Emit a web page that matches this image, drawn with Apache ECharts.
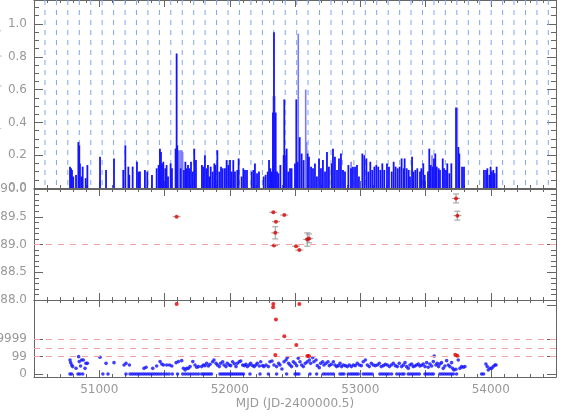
<!DOCTYPE html>
<html>
<head>
<meta charset="utf-8">
<script src="https://cdn.jsdelivr.net/npm/echarts@6/dist/echarts.min.js"></script>
<style>
html, body { margin: 0; padding: 0; background: #fff; }
#main { width: 568px; height: 419px; }
</style>
</head>
<body>
<div id="main"></div>
<script>
// top panel: flux light curve (MJD, value)
var fluxMjd = [50776,50784,50791,50801,50822,50840,50847,50852,50865,50873,50896,50909,51006,51052,51113,51184,51200,51223,51230,51256,51289,51302,51312,51350,51368,51404,51440,51455,51465,51473,51481,51491,51506,51516,51527,51547,51557,51585,51593,51598,51624,51649,51660,51670,51680,51690,51703,51716,51728,51741,51787,51797,51810,51823,51833,51843,51854,51869,51882,51892,51905,51920,51933,51946,51963,51976,51989,52002,52015,52027,52040,52058,52068,52091,52104,52117,52132,52168,52181,52193,52209,52224,52260,52275,52291,52301,52311,52321,52331,52339,52352,52362,52372,52388,52413,52418,52423,52436,52449,52462,52474,52500,52510,52520,52536,52551,52566,52597,52607,52623,52638,52653,52668,52684,52699,52714,52730,52745,52760,52781,52791,52806,52822,52837,52852,52868,52883,52909,52929,52944,52960,52975,52990,53016,53031,53047,53062,53077,53092,53108,53123,53138,53154,53169,53184,53205,53220,53241,53256,53271,53287,53302,53317,53333,53340,53356,53371,53381,53397,53407,53422,53437,53458,53468,53483,53494,53519,53529,53540,53555,53565,53575,53586,53601,53611,53632,53642,53657,53667,53683,53698,53734,53752,53759,53780,53795,53948,53964,53974,53989,53999,54009,54020,54030,54045];
var fluxVal = [0.13,0.12,0.11,0.07,0.08,0.28,0.26,0.15,0.07,0.13,0.06,0.14,0.19,0.11,0.18,0.11,0.26,0.13,0.08,0.13,0.16,0.10,0.10,0.11,0.10,0.08,0.12,0.14,0.24,0.22,0.15,0.16,0.12,0.14,0.07,0.15,0.12,0.24,0.82,0.26,0.12,0.11,0.16,0.12,0.14,0.12,0.16,0.10,0.24,0.17,0.14,0.13,0.20,0.12,0.14,0.07,0.13,0.10,0.15,0.14,0.23,0.10,0.13,0.12,0.12,0.17,0.14,0.17,0.10,0.17,0.10,0.11,0.18,0.07,0.12,0.11,0.11,0.10,0.11,0.15,0.09,0.10,0.07,0.08,0.10,0.17,0.12,0.10,0.46,0.95,0.46,0.10,0.09,0.14,0.20,0.54,0.20,0.24,0.10,0.12,0.12,0.15,0.54,0.16,0.31,0.21,0.17,0.21,0.19,0.13,0.12,0.15,0.07,0.18,0.12,0.17,0.10,0.22,0.13,0.15,0.24,0.19,0.11,0.18,0.21,0.11,0.10,0.14,0.12,0.13,0.13,0.14,0.07,0.21,0.20,0.18,0.10,0.16,0.11,0.13,0.14,0.13,0.11,0.15,0.11,0.15,0.13,0.10,0.16,0.13,0.12,0.13,0.18,0.12,0.18,0.12,0.11,0.07,0.19,0.10,0.11,0.12,0.10,0.12,0.15,0.08,0.10,0.24,0.14,0.13,0.18,0.21,0.13,0.12,0.11,0.18,0.12,0.11,0.15,0.09,0.15,0.49,0.25,0.21,0.13,0.13,0.11,0.11,0.12,0.08,0.13,0.10,0.11,0.09,0.13];
// paler bars drawn behind
var paleMjd = [51608,51619,51629,51639,52334,52345,52525,52582,52589,52930,53550,53744];
var paleVal = [0.23,0.23,0.23,0.22,0.56,0.56,0.94,0.60,0.28,0.16,0.20,0.49];
// dashed guide lines
var guideMjd = [50584,50672,50759,50847,50935,51022,51110,51198,51285,51373,51461,51548,51636,51724,51811,51899,51987,52074,52162,52250,52337,52425,52513,52600,52688,52776,52863,52951,53039,53126,53214,53302,53389,53477,53565,53652,53740,53828,53915,54003,54091,54178,54266,54354,54441];

// middle panel
var posMjd = [51593,52334,52354,52349,52339,52418,52508,52533,52594,52607,53734,53744];
var posVal = [89.50,89.58,89.41,89.21,88.98,89.53,88.97,88.90,89.09,89.11,89.83,89.52];
var posErr = [0.01,0.01,0.02,0.11,0.01,0.01,0.01,0.01,0.12,0.08,0.08,0.08];
var posRef = 89.0;

// bottom panel (levels on the coded scale)
var lvlTicks = [0, 2, 4, 8];
var lvlLabels = ['0', '99', '9999', '100'];
var lvlRefs = [2, 3, 4];
var redMjd = [51593,52334,52332,52354,52418,52510,52533,52349,52594,52607,53728,53744];
var redLvl = [8.1,8.1,7.7,6.3,4.36,3.35,8.1,2.2,2.08,2.08,2.23,2.12];
var blueMjd = [50776,50781,50789,50796,50822,50842,50847,50857,50865,50878,50891,50898,50909,51006,51052,51113,51190,51205,51231,51343,51359,51410,51440,51466,51479,51492,51517,51538,51556,51589,51607,51632,51645,51658,51670,51683,51696,51717,51734,51747,51760,
  51785,51798,51810,51823,51836,51849,51869,51879,51895,51905,51920,51930,51946,51956,51971,51981,51997,52007,52022,52035,52048,52058,52073,52084,52099,52112,52124,52135,52150,52160,52176,52188,52201,52211,52227,52237,52252,52262,52278,52296,52308,52324,52339,52359,52375,52385,52400,52416,52431,52441,52451,52462,52474,52487,52500,52513,52525,52538,52551,52564,52579,52594,52610,52620,52635,52645,52661,52671,52686,52697,52712,52722,52737,52753,52763,52778,52794,52806,52819,52832,52845,52857,52870,52886,52901,52916,52932,52947,52962,52977,52993,53008,53023,53039,53054,53069,53085,53100,53115,53131,53146,53161,53177,53192,53207,53223,53238,53253,53269,53284,53299,
  53317,53330,53343,53355,53368,53381,53394,53406,53419,53432,53445,53457,53470,53483,53496,53509,53521,53534,53547,53560,53567,53580,53590,53600,53611,53623,53636,53649,53662,53675,53687,53700,53708,53718,53733,53751,53764,53777,53790,53802,53963,53973,53981,53994,54007,54019,54032,54040];
var blueLvl = [1.62,1.31,1.04,0.85,0.65,2.0,1.43,0.92,1.62,1.62,0.65,1.23,1.23,1.93,1.23,1.31,1.04,1.23,1.04,0.65,0.77,0.65,0.92,1.43,1.16,1.04,1.04,1.04,0.92,1.31,1.43,1.54,0.65,0.46,0.65,0.65,0.85,1.43,1.04,0.77,0.85,
  0.85,1.04,0.96,1.23,0.92,1.11,1.42,1.62,1.23,1.04,0.85,1.23,1.42,1.04,0.85,1.23,1.04,0.96,1.42,1.19,0.85,1.23,1.42,1.50,1.04,0.96,1.11,0.85,1.04,1.23,0.96,0.85,1.04,1.23,0.92,1.42,0.96,0.85,1.04,0.85,1.42,1.50,1.04,0.85,1.23,1.04,0.58,1.42,1.62,1.89,1.23,1.04,0.85,1.42,1.23,0.96,1.81,1.42,1.04,0.85,1.23,1.42,1.62,1.23,1.89,1.42,1.62,0.96,0.73,1.23,1.42,1.04,1.23,1.42,0.96,1.11,1.42,1.04,0.85,0.96,1.23,0.85,1.04,0.96,0.85,1.04,0.85,1.04,0.96,1.23,1.04,0.96,1.42,1.62,1.04,0.85,1.23,1.04,0.96,1.04,1.23,0.85,0.96,1.11,1.04,0.85,1.04,1.23,0.96,0.85,1.23,
  0.85,1.04,1.31,0.85,0.65,1.04,1.16,0.85,0.92,1.04,1.16,0.92,1.0,1.16,0.85,1.31,0.77,1.16,0.92,1.43,2.08,1.04,1.23,0.85,1.16,1.31,0.65,0.92,1.54,1.04,0.85,1.31,0.65,0.46,0.54,1.62,0.65,0.85,0.77,0.85,1.16,0.85,0.46,0.65,0.65,0.85,1.04,1.04];
var zeroMjd = [50776,50789,50837,50852,50873,51028,51067,51205,51236,51253,51270,51287,51304,51321,51338,51355,51372,51389,51406,51423,51440,51457,51475,51495,51515,51535,51560,51600,51640,51660,51680,51700,51720,51740,51760,51785,51800,51815,51830,51845,51860,51925,51940,51955,51970,51985,52000,52015,52030,52045,52060,52075,52090,52105,52155,52232,52296,52359,52436,52500,52515,52530,52615,52666,52717,52735,52755,52775,52794,52845,52860,52875,52908,52925,52940,52955,52970,52985,53023,53040,53057,53074,53091,53151,53168,53185,53202,53219,53240,53280,53300,53320,53335,53368,53385,53402,53419,53436,53453,53496,53512,53528,53545,53560,53611,53628,53645,53662,53679,53696,53713,53738,53930,53945];

var xTitle = 'MJD (JD-2400000.5)';
var yTitle = 'Flux (counts/cm2/sec)';

var axisCol = '#666';
var textCol = '#999';
var font = 'DejaVu Sans';

function pairs(xs, ys) {
  return xs.map(function (x, i) { return [x, ys[i]]; });
}

function stickItem(color, width) {
  return function (params, api) {
    var p0 = api.coord([api.value(0), 0]);
    var p1 = api.coord([api.value(0), api.value(1)]);
    return {
      type: 'line',
      shape: { x1: p0[0], y1: p0[1], x2: p1[0], y2: p1[1] },
      style: { stroke: color, lineWidth: width }
    };
  };
}

function xAxisFor(grid, pos, labels) {
  return {
    type: 'value', gridIndex: grid, position: pos,
    min: 50500, max: 54500, interval: 500,
    axisLine: { show: true, onZero: false, lineStyle: { color: axisCol } },
    axisTick: { show: true, inside: true, length: 7, lineStyle: { color: axisCol } },
    minorTick: { show: true, splitNumber: 5, length: 3, lineStyle: { color: axisCol } },
    axisLabel: { show: labels, color: textCol, fontFamily: font, fontSize: 12, margin: 7,
      formatter: function (v) { return v % 1000 === 0 ? String(v) : ''; } },
    splitLine: { show: false },
    name: labels ? xTitle : '',
    nameLocation: 'middle', nameGap: 21,
    nameTextStyle: { color: textCol, fontFamily: font, fontSize: 12 }
  };
}

function yAxisFor(grid, pos, cfg) {
  var labels = pos === 'left';
  var ax = {
    type: 'value', gridIndex: grid, position: pos,
    min: cfg.min, max: cfg.max,
    axisLine: { show: true, onZero: false, lineStyle: { color: axisCol } },
    axisTick: { show: true, inside: true, length: 9, lineStyle: { color: axisCol } },
    minorTick: { show: cfg.minor > 0, splitNumber: cfg.minor || 1, length: 5, lineStyle: { color: axisCol } },
    axisLabel: { show: labels, color: textCol, fontFamily: font, fontSize: 12, margin: 7,
      showMaxLabel: cfg.showMax, formatter: cfg.fmt },
    splitLine: { show: false },
    name: labels && cfg.name ? cfg.name : '',
    nameLocation: 'middle', nameGap: 31, nameMoveOverlap: false,
    nameTextStyle: { color: '#bbb', fontFamily: font, fontSize: 12 }
  };
  if (cfg.interval) ax.interval = cfg.interval;
  if (cfg.custom) {
    ax.axisLabel.customValues = cfg.custom;
    ax.axisTick.customValues = cfg.custom;
  }
  return ax;
}

var topCfg = { min: 0, max: 1.146, interval: 0.2, minor: 4, showMax: false, name: yTitle,
  fmt: function (v) { return v.toFixed(1); } };
var midCfg = { min: 88, max: 90, interval: 0.5, minor: 5, showMax: true,
  fmt: function (v) { return v.toFixed(1); } };
var botCfg = { min: -0.35, max: 8.55, minor: 0, showMax: false, custom: lvlTicks,
  fmt: function (v) { var i = lvlTicks.indexOf(v); return i >= 0 ? lvlLabels[i] : ''; } };

var chart = echarts.init(document.getElementById('main'), null, { renderer: 'canvas' });

var option = {
  animation: false,
  backgroundColor: '#fff',
  grid: [
    { left: 34, width: 522, top: 0, height: 188, outerBoundsMode: 'none', containLabel: false },
    { left: 34, width: 522, top: 189, height: 111, outerBoundsMode: 'none', containLabel: false },
    { left: 34, width: 522, top: 300, height: 77, outerBoundsMode: 'none', containLabel: false }
  ],
  xAxis: [
    xAxisFor(0, 'bottom', false), xAxisFor(0, 'top', false),
    xAxisFor(1, 'bottom', false), xAxisFor(1, 'top', false),
    xAxisFor(2, 'bottom', true), xAxisFor(2, 'top', false)
  ],
  yAxis: [
    yAxisFor(0, 'left', topCfg), yAxisFor(0, 'right', topCfg),
    yAxisFor(1, 'left', midCfg), yAxisFor(1, 'right', midCfg),
    yAxisFor(2, 'left', botCfg), yAxisFor(2, 'right', botCfg)
  ],
  series: [
    {
      // dashed guide lines
      type: 'custom', xAxisIndex: 0, yAxisIndex: 0, silent: true, z: 1,
      data: guideMjd.map(function (m) { return [m]; }),
      renderItem: function (params, api) {
        var p0 = api.coord([api.value(0), 0]);
        var p1 = api.coord([api.value(0), topCfg.max]);
        return {
          type: 'line',
          shape: { x1: p0[0], y1: p1[1], x2: p0[0], y2: p0[1] },
          style: { stroke: '#7fa6f2', lineWidth: 1, lineDash: [5, 5] }
        };
      }
    },
    {
      type: 'custom', xAxisIndex: 0, yAxisIndex: 0, silent: true, z: 2,
      data: pairs(paleMjd, paleVal),
      renderItem: stickItem('#7b7bff', 1.6)
    },
    {
      type: 'custom', xAxisIndex: 0, yAxisIndex: 0, silent: true, z: 3,
      data: pairs(fluxMjd, fluxVal),
      renderItem: stickItem('#1414ff', 1.8)
    },
    {
      // error bars
      type: 'custom', xAxisIndex: 2, yAxisIndex: 2, silent: true, z: 3,
      data: posMjd.map(function (m, i) { return [m, posVal[i], posErr[i]]; }),
      renderItem: function (params, api) {
        var x = api.value(0), v = api.value(1), e = api.value(2);
        var c = api.coord([x, v]);
        var hi = api.coord([x, v + e]);
        var lo = api.coord([x, v - e]);
        var st = { stroke: '#999', lineWidth: 1 };
        var kids = [
          { type: 'line', shape: { x1: c[0] - 4, y1: c[1], x2: c[0] + 4, y2: c[1] }, style: st }
        ];
        if (lo[1] - hi[1] > 3) {
          kids.push({ type: 'line', shape: { x1: c[0], y1: hi[1], x2: c[0], y2: lo[1] }, style: st });
          kids.push({ type: 'line', shape: { x1: c[0] - 3, y1: hi[1], x2: c[0] + 3, y2: hi[1] }, style: st });
          kids.push({ type: 'line', shape: { x1: c[0] - 3, y1: lo[1], x2: c[0] + 3, y2: lo[1] }, style: st });
        }
        return { type: 'group', children: kids };
      }
    },
    {
      type: 'scatter', xAxisIndex: 2, yAxisIndex: 2, z: 4,
      data: pairs(posMjd, posVal),
      symbolSize: 4, itemStyle: { color: '#e00000' },
      markLine: {
        silent: true, symbol: 'none', label: { show: false },
        lineStyle: { color: '#f2a2a2', type: [6, 6], width: 1 },
        data: [{ yAxis: posRef }]
      }
    },
    {
      type: 'scatter', xAxisIndex: 4, yAxisIndex: 4, z: 4,
      data: pairs(blueMjd, blueLvl),
      symbolSize: 3.6, itemStyle: { color: '#1010ff' }
    },
    {
      type: 'scatter', xAxisIndex: 4, yAxisIndex: 4, z: 4,
      data: zeroMjd.map(function (m) { return [m, 0]; }),
      symbolSize: 3.6, itemStyle: { color: '#1010ff' }
    },
    {
      type: 'scatter', xAxisIndex: 4, yAxisIndex: 4, z: 5,
      data: pairs(redMjd, redLvl),
      symbolSize: 4, itemStyle: { color: '#e00000' },
      markLine: {
        silent: true, symbol: 'none', label: { show: false },
        lineStyle: { color: '#f2a2a2', type: [6, 6], width: 1 },
        data: lvlRefs.map(function (l) { return { yAxis: l }; })
      }
    }
  ]
};

chart.setOption(option);
</script>
</body>
</html>
